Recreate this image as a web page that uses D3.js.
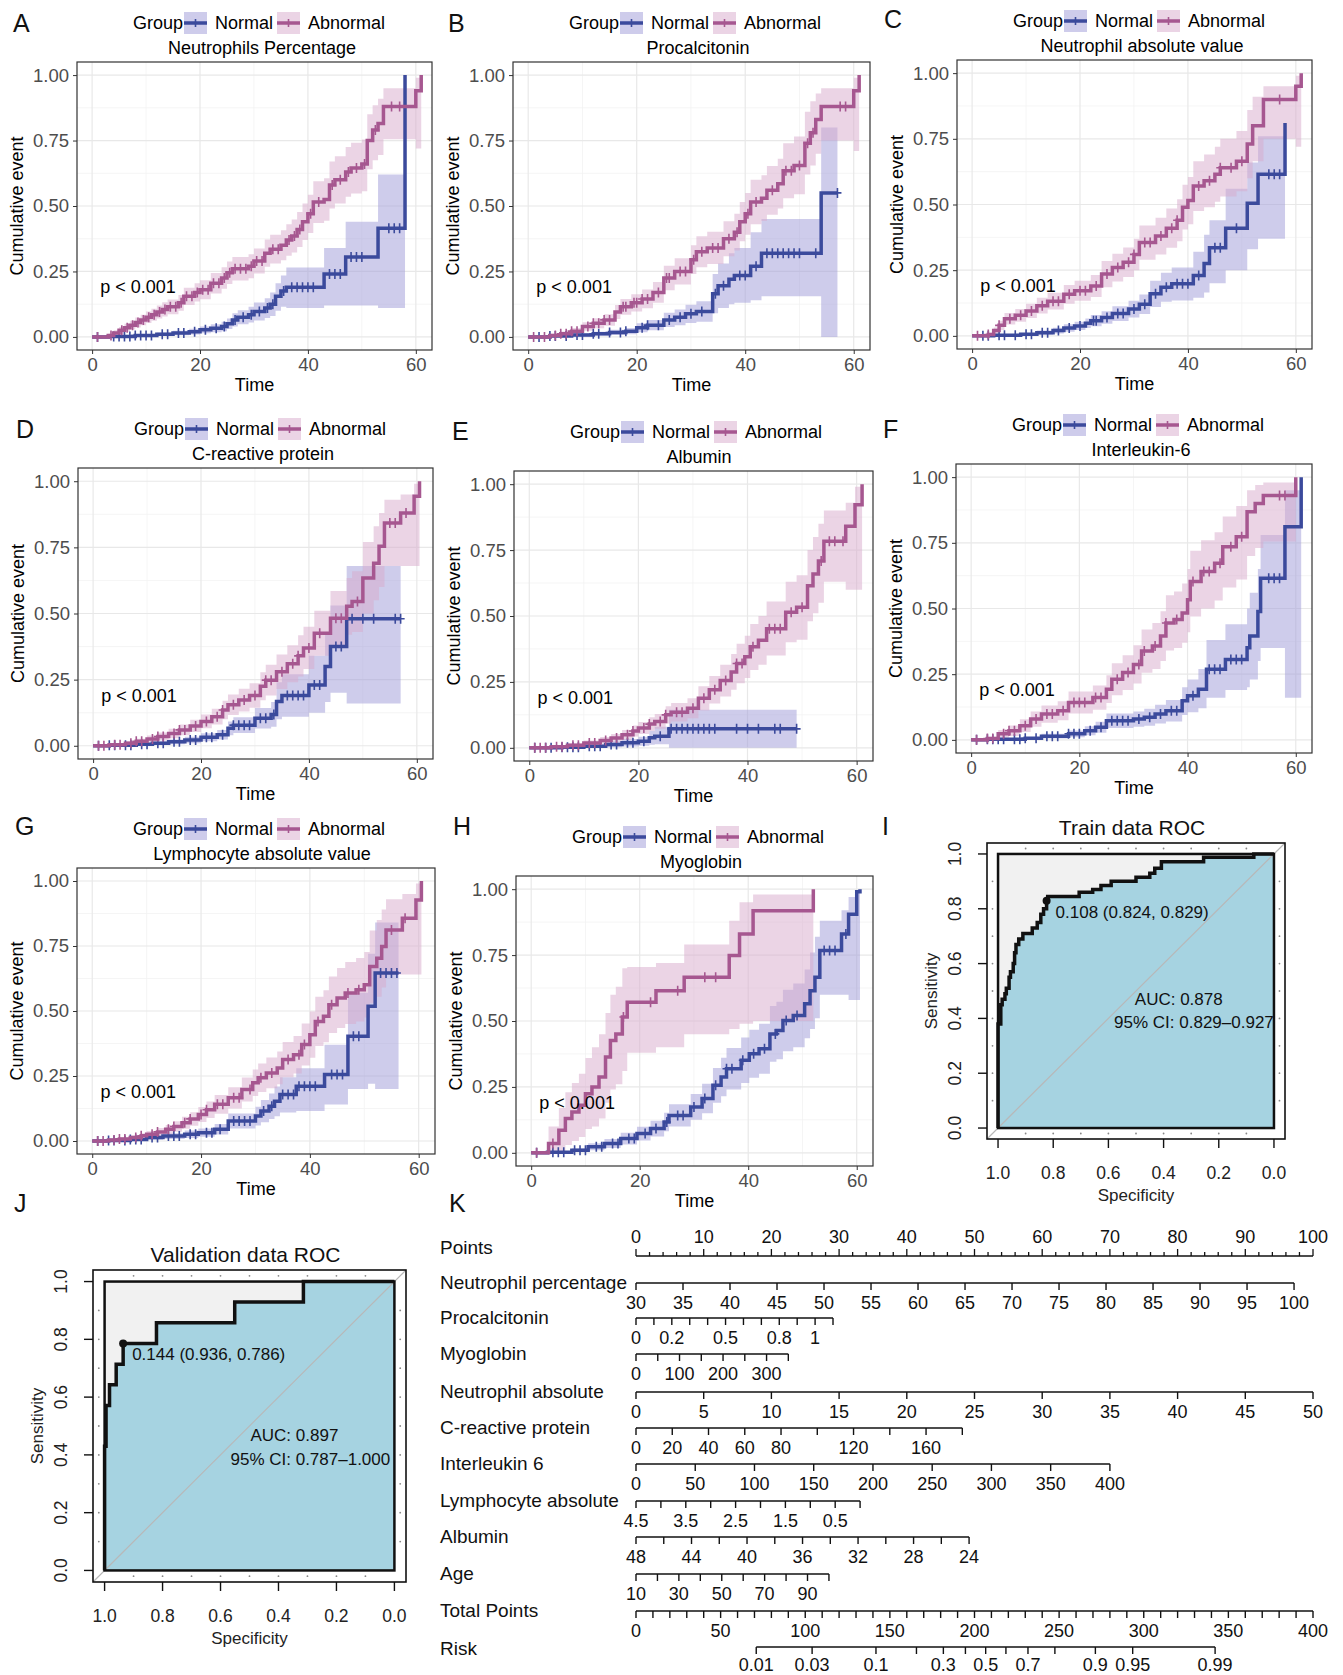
<!doctype html>
<html>
<head>
<meta charset="utf-8">
<script src="https://cdn.jsdelivr.net/npm/d3@7"></script>
<style>
  body { margin: 0; background: #fff; }
  svg { display: block; font-family: "Liberation Sans", Arial, sans-serif; }
</style>
</head>
<body>
<svg id="fig" width="1343" height="1675"></svg>
<script>
// ---------------- data ----------------
// KM steps: [time, cumulative event, lower CI, upper CI]
const groups = ["Normal", "Abnormal"];
const kmTitles = ["Neutrophils Percentage", "Procalcitonin", "Neutrophil absolute value",
  "C-reactive protein", "Albumin", "Interleukin-6", "Lymphocyte absolute value", "Myoglobin"];
const pText = "p < 0.001";

const aNormal = [[0,0,0,0],[3,0.002,0,0.005],[8,0.005,0,0.011],[12,0.01,0.003,0.017],[15,0.015,0.006,0.024],[18,0.02,0.009,0.031],[20,0.027,0.014,0.04],[22,0.033,0.018,0.048],[24,0.04,0.022,0.058],[25,0.05,0.03,0.07],[26,0.065,0.04,0.09],[27,0.075,0.048,0.102],[29,0.085,0.055,0.115],[30,0.097,0.063,0.131],[32,0.11,0.072,0.148],[33,0.125,0.08,0.17],[34,0.155,0.1,0.205],[35,0.175,0.115,0.235],[36,0.19,0.11,0.265],[43,0.24,0.12,0.34],[47,0.305,0.12,0.44],[53,0.415,0.11,0.62],[58,1,0.11,0.62]];
const aAbnormal = [[0,0,0,0],[3,0.005,0,0.012],[4,0.015,0.005,0.025],[5,0.025,0.012,0.038],[6,0.035,0.02,0.05],[7,0.045,0.028,0.062],[8,0.055,0.036,0.074],[9,0.065,0.045,0.085],[10,0.075,0.053,0.097],[11,0.085,0.062,0.108],[12,0.095,0.07,0.12],[13,0.105,0.078,0.132],[14,0.115,0.087,0.143],[16,0.13,0.1,0.16],[17,0.155,0.122,0.188],[19,0.17,0.135,0.205],[20,0.18,0.144,0.216],[22,0.205,0.166,0.244],[24,0.225,0.184,0.266],[25,0.245,0.202,0.288],[26,0.26,0.215,0.305],[29,0.27,0.224,0.316],[30,0.29,0.242,0.338],[32,0.32,0.268,0.372],[33,0.335,0.28,0.39],[35,0.35,0.293,0.407],[36,0.37,0.31,0.43],[37,0.385,0.322,0.448],[38,0.41,0.343,0.477],[39,0.44,0.37,0.51],[40,0.47,0.397,0.543],[41,0.515,0.435,0.595],[43,0.525,0.444,0.606],[44,0.58,0.49,0.67],[45,0.6,0.51,0.69],[47,0.63,0.535,0.725],[48,0.645,0.548,0.742],[50,0.66,0.556,0.754],[51,0.75,0.64,0.85],[52,0.79,0.675,0.885],[53,0.815,0.695,0.91],[54,0.88,0.755,0.95],[60,0.94,0.72,0.99],[61,1,0.72,0.99]];
const aCensN = [1,4,5,6,7,8,9,10,11,13,14,16,17,19,21,23,24.5,26.5,28,29.5,31,32.5,33.5,35.5,37,38,39,40,41,44,45,46,48,49,50,55,56,57];
const aCensA = [1,3.5,5.5,6.5,7.5,8.5,9.5,10.5,11.5,12.5,13.5,14.5,15.5,16.5,17.5,18.5,19.5,20.5,21.5,22.5,23.5,24.5,25.5,26.5,27.5,28.5,29.5,30.5,31.5,33.5,34.5,36.5,37.5,38.5,40.5,42,44.5,46,47.5,49,50.5,52.5,55.5,57];

const bNormal = [[0,0,0,0],[4,0.003,0,0.008],[8,0.007,0.001,0.013],[12,0.012,0.004,0.02],[15,0.017,0.007,0.027],[18,0.022,0.01,0.034],[20,0.035,0.018,0.052],[22,0.045,0.025,0.065],[25,0.065,0.038,0.092],[27,0.075,0.045,0.105],[29,0.088,0.053,0.123],[31,0.097,0.058,0.136],[34,0.165,0.09,0.24],[35,0.195,0.11,0.28],[37,0.22,0.125,0.32],[38,0.235,0.13,0.34],[41,0.27,0.14,0.4],[43,0.32,0.155,0.45],[54,0.55,0,0.8],[57,0.55,0,0.8]];
const bAbnormal = [[0,0,0,0],[4,0.005,0,0.012],[6,0.012,0.003,0.021],[8,0.022,0.01,0.034],[10,0.04,0.024,0.056],[12,0.052,0.033,0.071],[14,0.065,0.043,0.087],[16,0.095,0.068,0.122],[17,0.115,0.085,0.145],[19,0.13,0.097,0.163],[21,0.145,0.109,0.181],[23,0.17,0.13,0.21],[25,0.225,0.178,0.272],[27,0.25,0.2,0.3],[30,0.295,0.24,0.35],[31,0.325,0.266,0.384],[33,0.34,0.278,0.402],[36,0.375,0.308,0.442],[38,0.4,0.33,0.47],[39,0.44,0.365,0.515],[40,0.47,0.39,0.55],[41,0.515,0.43,0.6],[43,0.53,0.443,0.617],[44,0.56,0.467,0.653],[46,0.585,0.49,0.68],[47,0.635,0.53,0.74],[49,0.655,0.545,0.765],[51,0.74,0.62,0.86],[52,0.78,0.655,0.9],[53,0.83,0.7,0.93],[54,0.88,0.75,0.95],[60,0.94,0.71,0.99],[61,1,0.71,0.99]];
const bCensN = [2,4,5,7,9,10,12,13,15,17,18,21,22,24,26,28,30,32,34.5,36,39,40,42,44,45,46,47,48,49,50,53,57];
const bCensA = [1,3,5,6,7,8,9,11,12,13,14,15,17.5,18,19.5,20,21,22,24,25.5,26,28,29,30.5,32,34,35,37,38.5,40.5,42,45,47.5,48.5,50,51.5,52.5,57.5,58.5];

const cNormal = [[0,0,0,0],[4,0.002,0,0.006],[9,0.006,0.001,0.011],[12,0.012,0.004,0.02],[15,0.02,0.009,0.031],[17,0.03,0.016,0.044],[19,0.038,0.022,0.054],[21,0.048,0.03,0.066],[22,0.058,0.037,0.079],[24,0.07,0.046,0.094],[26,0.085,0.057,0.113],[29,0.102,0.07,0.134],[31,0.12,0.083,0.157],[33,0.16,0.11,0.21],[35,0.185,0.13,0.24],[37,0.198,0.135,0.26],[41,0.23,0.145,0.32],[43,0.275,0.165,0.385],[44,0.335,0.2,0.44],[47,0.41,0.25,0.56],[51,0.505,0.33,0.66],[53,0.615,0.37,0.76],[58,0.81,0.37,0.76]];
const cAbnormal = [[0,0,0,0],[3,0.005,0,0.012],[4,0.02,0.008,0.032],[5,0.04,0.022,0.058],[6,0.065,0.043,0.087],[8,0.078,0.054,0.102],[10,0.095,0.068,0.122],[12,0.115,0.085,0.145],[14,0.132,0.1,0.164],[17,0.158,0.122,0.194],[19,0.172,0.134,0.21],[22,0.19,0.148,0.232],[24,0.235,0.185,0.285],[26,0.26,0.207,0.313],[28,0.28,0.224,0.336],[30,0.31,0.25,0.37],[31,0.355,0.29,0.42],[34,0.38,0.31,0.45],[36,0.41,0.335,0.485],[38,0.44,0.36,0.52],[39,0.49,0.405,0.575],[40,0.515,0.425,0.605],[41,0.57,0.475,0.665],[43,0.59,0.49,0.69],[45,0.615,0.51,0.72],[46,0.64,0.53,0.75],[49,0.665,0.55,0.78],[51,0.73,0.6,0.86],[52,0.8,0.665,0.91],[54,0.9,0.75,0.95],[60,0.95,0.72,0.99],[61,1,0.72,0.99]];
const cCensN = [2,3,5,6,8,10,11,13,14,16,18,20,22.5,23,25,27,28,30,32,34,36,38,39,40,42,45,46,49,55,56,57];
const cCensA = [1,3,5,7,9,11,13,15,16,18,20,21,23,25,27,29,30,32,33,35,37,38,42,44,46,48,50,57];

const dNormal = [[0,0,0,0],[3,0.002,0,0.006],[8,0.006,0.001,0.011],[11,0.01,0.003,0.017],[14,0.015,0.006,0.024],[17,0.022,0.01,0.034],[20,0.032,0.017,0.047],[23,0.042,0.024,0.06],[25,0.066,0.04,0.092],[26,0.078,0.048,0.108],[30,0.104,0.065,0.143],[33,0.118,0.072,0.165],[34,0.167,0.1,0.24],[35,0.19,0.11,0.27],[40,0.23,0.125,0.34],[43,0.3,0.165,0.43],[44,0.375,0.2,0.53],[47,0.48,0.16,0.68],[57,0.48,0.16,0.68]];
const dAbnormal = [[0,0,0,0],[3,0.004,0,0.01],[6,0.01,0.002,0.018],[8,0.017,0.007,0.027],[10,0.026,0.013,0.039],[12,0.035,0.02,0.05],[14,0.046,0.028,0.064],[16,0.06,0.04,0.08],[18,0.075,0.052,0.098],[20,0.092,0.066,0.118],[22,0.11,0.08,0.14],[24,0.135,0.1,0.17],[25,0.155,0.116,0.194],[27,0.173,0.13,0.216],[29,0.19,0.144,0.236],[31,0.225,0.172,0.278],[32,0.248,0.19,0.306],[34,0.28,0.215,0.345],[36,0.31,0.24,0.38],[38,0.34,0.262,0.418],[39,0.37,0.29,0.45],[41,0.425,0.34,0.51],[44,0.482,0.38,0.585],[47,0.527,0.42,0.634],[48,0.545,0.43,0.66],[50,0.634,0.5,0.77],[52,0.69,0.55,0.83],[53,0.754,0.6,0.88],[54,0.842,0.68,0.93],[57,0.88,0.68,0.95],[59.5,0.943,0.68,0.99],[60.5,1,0.68,0.99]];
const dCensN = [1,3,4,6,7,9,10,12,13,15,16,18,19,21,22,24,26,27,28,29,31,32,33.5,36,37,38,39,41,42,45,46,48,50,52,56,57];
const dCensA = [1,2,4,5,7,8,9,11,12,13,15,16,17,19,21,23,24,26,28,30,32,33,35,37,38,40,42,45,46,49,55,56,58];

const eNormal = [[0,0,0,0],[6,0.002,0,0.006],[10,0.006,0,0.013],[14,0.013,0.002,0.024],[17,0.019,0.005,0.033],[20,0.025,0.008,0.042],[22,0.038,0.012,0.064],[23,0.044,0.014,0.08],[25.6,0.072,0,0.144],[49,0.072,0,0.144]];
const eAbnormal = [[0,0,0,0],[4,0.004,0,0.009],[7,0.01,0.003,0.017],[10,0.018,0.008,0.028],[13,0.028,0.015,0.041],[15,0.037,0.022,0.052],[17,0.05,0.032,0.068],[19,0.064,0.043,0.085],[20,0.075,0.052,0.098],[22,0.09,0.064,0.116],[23,0.1,0.072,0.128],[25,0.125,0.092,0.158],[26,0.135,0.1,0.17],[29,0.15,0.112,0.188],[31,0.188,0.142,0.234],[33,0.22,0.168,0.272],[35,0.255,0.195,0.315],[37,0.288,0.22,0.356],[38,0.32,0.245,0.395],[39.5,0.345,0.265,0.425],[40.5,0.383,0.295,0.47],[42,0.408,0.315,0.5],[43.5,0.452,0.35,0.555],[47,0.514,0.4,0.63],[49,0.533,0.41,0.655],[51,0.615,0.48,0.75],[52,0.659,0.51,0.8],[53,0.709,0.55,0.85],[54,0.784,0.63,0.9],[58,0.84,0.6,0.93],[59.7,0.922,0.6,0.99],[61,1,0.6,0.99]];
const eCensN = [1,3,4,6,7,8,9,11,12,13,15,16,18,19,21,24,26,27,28,29,30,31,32,33,34,38,40,42,45,46,49];
const eCensA = [1,2,3,5,6,8,9,11,12,14,16,18,19,21,22,24,25,27,28,30,32,34,36,38,39,41,44,45,46,48,50,53.5,55,56,57.5];

const fNormal = [[0,0,0,0],[3,0.002,0,0.006],[10,0.006,0.001,0.011],[13,0.014,0.005,0.023],[18,0.023,0.01,0.036],[21,0.035,0.018,0.052],[23,0.048,0.027,0.069],[25,0.073,0.045,0.1],[30,0.079,0.05,0.108],[32,0.086,0.054,0.118],[34,0.098,0.062,0.134],[36,0.111,0.07,0.152],[39,0.149,0.095,0.2],[40,0.168,0.105,0.23],[42,0.193,0.12,0.27],[43.5,0.269,0.16,0.38],[47,0.306,0.19,0.44],[51,0.351,0.2,0.5],[51.5,0.395,0.23,0.56],[53,0.489,0.3,0.65],[53.5,0.615,0.35,0.78],[58,0.811,0.16,0.95],[61,1,0.16,0.95]];
const fAbnormal = [[0,0,0,0],[3,0.005,0,0.012],[5,0.023,0.008,0.038],[7,0.035,0.015,0.055],[9,0.054,0.03,0.078],[11,0.079,0.05,0.108],[13,0.098,0.065,0.131],[16,0.111,0.075,0.147],[18,0.142,0.1,0.184],[22.5,0.161,0.115,0.207],[25,0.193,0.14,0.246],[26,0.231,0.17,0.292],[28,0.256,0.19,0.322],[30,0.287,0.215,0.36],[31.5,0.338,0.255,0.42],[33.5,0.357,0.27,0.445],[35,0.395,0.3,0.49],[36,0.445,0.34,0.55],[37.5,0.458,0.35,0.565],[39,0.483,0.37,0.595],[40,0.533,0.41,0.65],[40.5,0.603,0.47,0.72],[42.5,0.641,0.5,0.76],[45,0.672,0.53,0.79],[46.5,0.735,0.58,0.85],[49,0.773,0.61,0.89],[51,0.868,0.7,0.95],[52.5,0.9,0.73,0.97],[54,0.93,0.755,0.98],[60,1,0.755,0.98]];
const fCensN = [1,3,4,5,6,8,9,10,12,14,15,16,18,19,20,22,24,26,27,28,29,31,33,35,37,38,41,44,45,46,48,49,50,55,56,57];
const fCensA = [1,3,4,6,7,8,10,12,14,15,17,19,20,21,23,24,27,29,31,32,34,36,38,41,43,44,46,48,50,57,58];

const gNormal = [[0,0,0,0],[3,0.002,0,0.006],[7,0.006,0.001,0.011],[10,0.013,0.005,0.021],[13,0.019,0.008,0.03],[17,0.026,0.012,0.04],[19.5,0.032,0.016,0.048],[22.5,0.045,0.025,0.065],[25,0.077,0.048,0.106],[30,0.096,0.06,0.132],[31,0.115,0.072,0.158],[32.5,0.134,0.085,0.183],[33.5,0.153,0.095,0.21],[34.5,0.179,0.11,0.245],[37.5,0.211,0.115,0.28],[42.7,0.256,0.14,0.37],[47,0.403,0.2,0.57],[50.7,0.518,0.22,0.72],[52,0.646,0.2,0.84],[56.3,0.646,0.2,0.84]];
const gAbnormal = [[0,0,0,0],[3,0.004,0,0.01],[5,0.008,0.002,0.014],[7,0.013,0.005,0.021],[9,0.02,0.01,0.03],[10,0.026,0.014,0.038],[12,0.035,0.02,0.05],[13.5,0.045,0.028,0.062],[15,0.056,0.036,0.076],[16.5,0.07,0.047,0.093],[18,0.085,0.059,0.111],[19.5,0.102,0.073,0.131],[21,0.12,0.088,0.152],[22.5,0.141,0.105,0.177],[25,0.166,0.125,0.207],[27.5,0.198,0.152,0.244],[29.5,0.224,0.173,0.275],[30.5,0.243,0.188,0.298],[32,0.262,0.203,0.321],[34,0.281,0.218,0.344],[35,0.313,0.245,0.381],[37,0.332,0.26,0.404],[38.5,0.371,0.29,0.452],[40,0.409,0.32,0.498],[41,0.46,0.365,0.555],[42.5,0.48,0.38,0.58],[43.5,0.524,0.415,0.633],[45,0.55,0.435,0.665],[46.5,0.569,0.45,0.688],[48.5,0.582,0.46,0.704],[50,0.601,0.475,0.727],[51,0.671,0.53,0.81],[52.3,0.703,0.555,0.85],[53.2,0.748,0.59,0.89],[54,0.812,0.64,0.93],[57,0.857,0.64,0.95],[59.5,0.927,0.64,0.99],[60.5,1,0.64,0.99]];
const gCensN = [1,3,4,6,7,8,9,11,12,14,15,16,18,19,21,22,23.5,26,27,28,29,31.5,33,35,36,37,38,39,40,41,44,45,46,48,49,53,54,55,56];
const gCensA = [1,2,4,5,6,8,9,11,12,14,15,17,18,20,21,23,24,26,27,29,31,33,36,38,39,41.5,44,47,49,55,57.5];

const hNormal = [[0,0,0,0],[3,0.002,0,0.006],[7.5,0.01,0.003,0.017],[10.5,0.023,0.01,0.036],[13.5,0.035,0.018,0.052],[16.5,0.054,0.032,0.076],[19.5,0.073,0.047,0.099],[22,0.092,0.062,0.122],[24.5,0.117,0.082,0.152],[25.4,0.142,0.1,0.184],[29.4,0.174,0.125,0.223],[31.5,0.206,0.15,0.262],[33.5,0.256,0.19,0.322],[35,0.288,0.215,0.361],[36,0.319,0.24,0.398],[38.7,0.351,0.265,0.437],[40.2,0.376,0.285,0.467],[42,0.395,0.3,0.49],[44,0.451,0.345,0.557],[45.2,0.464,0.355,0.573],[46.4,0.502,0.385,0.619],[48.3,0.521,0.4,0.642],[50.4,0.565,0.435,0.695],[51.4,0.615,0.47,0.76],[52.3,0.666,0.51,0.82],[53.2,0.767,0.6,0.88],[57.2,0.83,0.6,0.92],[58.5,0.905,0.58,0.97],[60,0.99,0.58,0.99],[60.6,1,0.58,0.99]];
const hAbnormal = [[0,0,0,0],[3.2,0.035,0,0.1],[5.1,0.086,0,0.17],[6.3,0.13,0.03,0.23],[7.5,0.155,0.045,0.265],[8.8,0.18,0.06,0.3],[10,0.224,0.09,0.36],[11.2,0.25,0.1,0.4],[12.5,0.288,0.13,0.45],[13.7,0.363,0.19,0.53],[14.6,0.426,0.24,0.6],[15.6,0.451,0.26,0.63],[16.8,0.515,0.31,0.7],[17.7,0.571,0.38,0.705],[23,0.615,0.4,0.72],[28.2,0.666,0.45,0.79],[36.5,0.748,0.47,0.88],[38.4,0.83,0.49,0.95],[40.9,0.918,0.5,0.98],[52,1,0.5,0.98]];
const hCensN = [1,4,5,6,8,9,10,12,13,15,16,18,19,21,23,25,27,28,30,32,34,36,37,39,41,43,45,47,49,54,55,56,58];
const hCensA = [1,4,17,22,27,32,34];

const kmNormal = [aNormal, bNormal, cNormal, dNormal, eNormal, fNormal, gNormal, hNormal];
const kmAbnormal = [aAbnormal, bAbnormal, cAbnormal, dAbnormal, eAbnormal, fAbnormal, gAbnormal, hAbnormal];
const kmCensNormal = [aCensN, bCensN, cCensN, dCensN, eCensN, fCensN, gCensN, hCensN];
const kmCensAbnormal = [aCensA, bCensA, cCensA, dCensA, eCensA, fCensA, gCensA, hCensA];
const timeTicks = [0, 20, 40, 60];
const eventTicks = [0, 0.25, 0.5, 0.75, 1];

// ROC curves: points at the top of each vertical jump [specificity, sensitivity]
const trainSpec = [1, 1, 0.99, 0.985, 0.975, 0.97, 0.96, 0.955, 0.945, 0.94, 0.935, 0.925, 0.91, 0.876, 0.858, 0.845, 0.835, 0.824, 0.82, 0.706, 0.657, 0.627, 0.59, 0.5, 0.45, 0.432, 0.408, 0.255, 0.073, 0];
const trainSens = [0, 0.38, 0.45, 0.47, 0.49, 0.51, 0.55, 0.57, 0.6, 0.64, 0.67, 0.69, 0.71, 0.73, 0.75, 0.78, 0.8, 0.829, 0.845, 0.86, 0.87, 0.885, 0.9, 0.915, 0.93, 0.948, 0.972, 0.988, 1, 1];
const valSpec = [1, 1, 0.995, 0.983, 0.96, 0.936, 0.821, 0.551, 0.314, 0];
const valSens = [0, 0.43, 0.571, 0.643, 0.714, 0.786, 0.857, 0.929, 1, 1];
const trainBest = {thr: 0.108, spec: 0.824, sens: 0.829};
const valBest = {thr: 0.144, spec: 0.936, sens: 0.786};
const trainAuc = {auc: "0.878", ci: "0.829\u20130.927"};
const valAuc = {auc: "0.897", ci: "0.787\u20131.000"};
const rocTicks = [1, 0.8, 0.6, 0.4, 0.2, 0];

// Nomogram
const nomoVars = ["Neutrophil percentage", "Procalcitonin", "Myoglobin", "Neutrophil absolute",
  "C-reactive protein", "Interleukin 6", "Lymphocyte absolute", "Albumin", "Age"];
const nomoRange = [[30, 100], [0, 1.1], [0, 350], [0, 50], [0, 180], [0, 400], [4.5, 0], [48, 24], [10, 100]];
const nomoMaxPoints = [97.2, 29.1, 22.5, 100, 48.2, 70, 33.1, 49.2, 28.5];
const nomoTicks = [
  [30,35,40,45,50,55,60,65,70,75,80,85,90,95,100],
  [0,0.1,0.2,0.3,0.4,0.5,0.6,0.7,0.8,0.9,1,1.1],
  [0,50,100,150,200,250,300,350],
  [0,5,10,15,20,25,30,35,40,45,50],
  [0,20,40,60,80,100,120,140,160,180],
  [0,50,100,150,200,250,300,350,400],
  [4.5,4,3.5,3,2.5,2,1.5,1,0.5,0],
  [48,46,44,42,40,38,36,34,32,30,28,26,24],
  [10,20,30,40,50,60,70,80,90,100]];
const nomoLabels = [
  [30,35,40,45,50,55,60,65,70,75,80,85,90,95,100],
  [0,0.2,0.5,0.8,1],
  [0,100,200,300],
  [0,5,10,15,20,25,30,35,40,45,50],
  [0,20,40,60,80,120,160],
  [0,50,100,150,200,250,300,350,400],
  [4.5,3.5,2.5,1.5,0.5],
  [48,44,40,36,32,28,24],
  [10,30,50,70,90]];
const pointsLabels = [0,10,20,30,40,50,60,70,80,90,100];
const totalLabels = [0,50,100,150,200,250,300,350,400];
const riskTicks = [0.01,0.03,0.1,0.2,0.3,0.4,0.5,0.6,0.7,0.8,0.9,0.95,0.99];
const riskLabels = [0.01,0.03,0.1,0.3,0.5,0.7,0.9,0.95,0.99];
const riskCenterPoints = 206.6;   // total points where risk = 0.5
const riskPointsPerLogit = 29.5;

// ---------------- layout / style ----------------
const kmLayout = [
  {letter: "A", lx: 13, ly: 32, x0: 77, y0: 62, x1: 432, y1: 350},
  {letter: "B", lx: 448, ly: 32, x0: 513, y0: 62, x1: 870, y1: 350},
  {letter: "C", lx: 884, ly: 28, x0: 957, y0: 60, x1: 1312, y1: 349},
  {letter: "D", lx: 16, ly: 438, x0: 78, y0: 468, x1: 433, y1: 759},
  {letter: "E", lx: 452, ly: 440, x0: 514, y0: 471, x1: 873, y1: 761},
  {letter: "F", lx: 883, ly: 438, x0: 956, y0: 464, x1: 1312, y1: 753},
  {letter: "G", lx: 15, ly: 835, x0: 77, y0: 868, x1: 435, y1: 1154},
  {letter: "H", lx: 453, ly: 835, x0: 516, y0: 876, x1: 873, y1: 1166}
];
const lineCol = ["#3b4a9c", "#a65790"];
const ribCol = ["#9d9ad8", "#d8a9cc"];

const svg = d3.select("#fig");
svg.append("rect").attr("width", 1343).attr("height", 1675).attr("fill", "#fff");

function letter(txt, x, y) {
  svg.append("text").attr("x", x).attr("y", y).attr("font-size", 25).attr("fill", "#111").text(txt);
}

function valueAt(curve, t) {
  let v = 0;
  for (const d of curve) { if (d[0] <= t) v = d[1]; else break; }
  return v;
}

function drawKM(L, i) {
  const g = svg.append("g");
  const x = d3.scaleLinear().domain([-2.8, 63]).range([L.x0, L.x1]);
  const y = d3.scaleLinear().domain([-0.05, 1.05]).range([L.y1, L.y0]);

  letter(L.letter, L.lx, L.ly);

  // grid (theme_bw)
  g.selectAll(null).data([10, 30, 50]).join("line")
    .attr("x1", d => x(d)).attr("x2", d => x(d)).attr("y1", L.y0).attr("y2", L.y1)
    .attr("stroke", "#f3f3f3").attr("stroke-width", 0.8);
  g.selectAll(null).data([0.125, 0.375, 0.625, 0.875]).join("line")
    .attr("y1", d => y(d)).attr("y2", d => y(d)).attr("x1", L.x0).attr("x2", L.x1)
    .attr("stroke", "#f3f3f3").attr("stroke-width", 0.8);
  g.selectAll(null).data(timeTicks).join("line")
    .attr("x1", d => x(d)).attr("x2", d => x(d)).attr("y1", L.y0).attr("y2", L.y1)
    .attr("stroke", "#e8e8e8").attr("stroke-width", 1.2);
  g.selectAll(null).data(eventTicks).join("line")
    .attr("y1", d => y(d)).attr("y2", d => y(d)).attr("x1", L.x0).attr("x2", L.x1)
    .attr("stroke", "#e8e8e8").attr("stroke-width", 1.2);

  const curves = [kmNormal[i], kmAbnormal[i]];
  const cens = [kmCensNormal[i], kmCensAbnormal[i]];
  const area = d3.area().curve(d3.curveStepAfter)
    .x(d => x(d[0])).y0(d => y(d[2])).y1(d => y(d[3]));
  const line = d3.line().curve(d3.curveStepAfter)
    .x(d => x(d[0])).y(d => y(d[1]));

  curves.forEach((c, k) => {
    g.append("path").attr("d", area(c)).attr("fill", ribCol[k]).attr("fill-opacity", 0.5);
  });
  curves.forEach((c, k) => {
    g.append("path").attr("d", line(c)).attr("fill", "none")
      .attr("stroke", lineCol[k]).attr("stroke-width", 3.5);
    g.selectAll(null).data(cens[k]).join("path")
      .attr("d", t => {
        const px = x(t), py = y(valueAt(c, t));
        return `M${px - 4},${py}H${px + 4}M${px},${py - 5}V${py + 5}`;
      })
      .attr("stroke", lineCol[k]).attr("stroke-width", 1.6);
  });

  // border
  g.append("rect").attr("x", L.x0).attr("y", L.y0)
    .attr("width", L.x1 - L.x0).attr("height", L.y1 - L.y0)
    .attr("fill", "none").attr("stroke", "#333").attr("stroke-width", 1.2);

  // axes
  const ax = g.append("g").attr("transform", `translate(0,${L.y1})`)
    .call(d3.axisBottom(x).tickValues(timeTicks).tickSize(4).tickPadding(4));
  const ay = g.append("g").attr("transform", `translate(${L.x0},0)`)
    .call(d3.axisLeft(y).tickValues(eventTicks).tickFormat(d3.format(".2f")).tickSize(4).tickPadding(4));
  [ax, ay].forEach(a => {
    a.select(".domain").remove();
    a.selectAll(".tick line").attr("stroke", "#333");
    a.selectAll(".tick text").attr("fill", "#4d4d4d").attr("font-size", 18.5)
      .attr("font-family", "'Liberation Sans', Arial, sans-serif");
  });

  g.append("text").attr("x", (L.x0 + L.x1) / 2).attr("y", L.y1 + 41)
    .attr("text-anchor", "middle").attr("font-size", 18).text("Time");
  g.append("text").attr("transform", `translate(${L.x0 - 60},${(L.y0 + L.y1) / 2}) rotate(-90)`)
    .attr("text-anchor", "middle").attr("dy", "0.35em").attr("font-size", 18).text("Cumulative event");

  // p value
  g.append("text").attr("x", x(1.5)).attr("y", y(0.19)).attr("dy", "0.35em")
    .attr("font-size", 18).text(pText);

  // title and legend
  g.append("text").attr("x", L.x0 + 185).attr("y", L.y0 - 8)
    .attr("text-anchor", "middle").attr("font-size", 18).text(kmTitles[i]);
  const lg = L.x0 + 56, ly = L.y0 - 39;
  g.append("text").attr("x", lg).attr("y", ly).attr("dy", "0.35em").attr("font-size", 18).text("Group");
  const keyX = [lg + 51, lg + 144], txtX = [lg + 82, lg + 175];
  groups.forEach((name, k) => {
    g.append("rect").attr("x", keyX[k]).attr("y", ly - 11).attr("width", 23).attr("height", 22)
      .attr("fill", ribCol[k]).attr("fill-opacity", 0.5);
    g.append("line").attr("x1", keyX[k]).attr("x2", keyX[k] + 23).attr("y1", ly).attr("y2", ly)
      .attr("stroke", lineCol[k]).attr("stroke-width", 3.5);
    g.append("line").attr("x1", keyX[k] + 11.5).attr("x2", keyX[k] + 11.5).attr("y1", ly - 4).attr("y2", ly + 4)
      .attr("stroke", lineCol[k]).attr("stroke-width", 1.6);
    g.append("text").attr("x", txtX[k]).attr("y", ly).attr("dy", "0.35em").attr("font-size", 18).text(name);
  });
}

kmLayout.forEach(drawKM);

// ---------------- ROC panels ----------------
function drawROC(o) {
  const g = svg.append("g");
  const x = d3.scaleLinear().domain([1.04, -0.04]).range([o.x0, o.x1]);
  const y = d3.scaleLinear().domain([-0.04, 1.04]).range([o.y1, o.y0]);
  const pts = o.spec.map((s, k) => [s, o.sens[k]]);

  letter(o.letter, o.lx, o.ly);
  g.append("text").attr("x", (o.x0 + o.x1) / 2 - 4).attr("y", o.y0 - 8)
    .attr("text-anchor", "middle").attr("font-size", 21).attr("fill", "#111").text(o.title);

  g.append("rect").attr("x", x(1)).attr("y", y(1)).attr("width", x(0) - x(1)).attr("height", y(0) - y(1))
    .attr("fill", "#f1f1f1");
  const area = d3.area().curve(d3.curveStepAfter).x(d => x(d[0])).y0(y(0)).y1(d => y(d[1]));
  g.append("path").attr("d", area(pts)).attr("fill", "#a6d3e1");
  g.append("line").attr("x1", x(1.04)).attr("y1", y(-0.04)).attr("x2", x(-0.04)).attr("y2", y(1.04))
    .attr("stroke", "#b8b8b8").attr("stroke-width", 1.2);
  g.append("rect").attr("x", x(1)).attr("y", y(1)).attr("width", x(0) - x(1)).attr("height", y(0) - y(1))
    .attr("fill", "none").attr("stroke", "#111").attr("stroke-width", 2.5);
  const line = d3.line().curve(d3.curveStepAfter).x(d => x(d[0])).y(d => y(d[1]));
  g.append("path").attr("d", line(pts)).attr("fill", "none").attr("stroke", "#111").attr("stroke-width", 3.5);

  // small marks between inner square and frame
  const fr = [0.1, 0.2, 0.3, 0.4, 0.5, 0.6, 0.7, 0.8, 0.9];
  g.selectAll(null).data(fr).join("circle").attr("cx", d => x(d)).attr("cy", y(1.02)).attr("r", 0.9).attr("fill", "#888");
  g.selectAll(null).data(fr).join("circle").attr("cx", d => x(d)).attr("cy", y(-0.02)).attr("r", 0.9).attr("fill", "#888");
  g.selectAll(null).data(fr).join("circle").attr("cy", d => y(d)).attr("cx", x(-0.02)).attr("r", 0.9).attr("fill", "#888");
  g.selectAll(null).data(fr).join("circle").attr("cy", d => y(d)).attr("cx", x(1.02)).attr("r", 0.9).attr("fill", "#888");

  // best threshold
  g.append("circle").attr("cx", x(o.best.spec)).attr("cy", y(o.best.sens)).attr("r", 4).attr("fill", "#111");
  g.append("text").attr("x", x(o.best.spec) + 9).attr("y", y(o.best.sens) + 11).attr("dy", "0.35em")
    .attr("font-size", 17).attr("fill", "#111")
    .text(`${o.best.thr} (${o.best.spec.toFixed(3)}, ${o.best.sens.toFixed(3)})`);
  g.append("text").attr("x", x(0.345)).attr("y", y(0.47)).attr("dy", "0.35em").attr("text-anchor", "middle")
    .attr("font-size", 17).attr("fill", "#111").text("AUC: " + o.auc.auc);
  g.append("text").attr("x", x(0.29)).attr("y", y(0.385)).attr("dy", "0.35em").attr("text-anchor", "middle")
    .attr("font-size", 17).attr("fill", "#111").text("95% CI: " + o.auc.ci);

  // frame
  g.append("rect").attr("x", o.x0).attr("y", o.y0).attr("width", o.x1 - o.x0).attr("height", o.y1 - o.y0)
    .attr("fill", "none").attr("stroke", "#111").attr("stroke-width", 1.6);

  // axes
  g.selectAll(null).data(rocTicks).join("line")
    .attr("x1", d => x(d)).attr("x2", d => x(d)).attr("y1", o.y1).attr("y2", o.y1 + 9)
    .attr("stroke", "#111").attr("stroke-width", 1.4);
  g.selectAll(null).data(rocTicks).join("text")
    .attr("x", d => x(d)).attr("y", o.y1 + 40).attr("text-anchor", "middle")
    .attr("font-size", 17.5).attr("fill", "#222").text(d => d.toFixed(1));
  g.selectAll(null).data(rocTicks).join("line")
    .attr("y1", d => y(d)).attr("y2", d => y(d)).attr("x1", o.x0).attr("x2", o.x0 - 9)
    .attr("stroke", "#111").attr("stroke-width", 1.4);
  g.selectAll(null).data(rocTicks).join("text")
    .attr("transform", d => `translate(${o.x0 - 32},${y(d)}) rotate(-90)`)
    .attr("text-anchor", "middle").attr("dy", "0.35em")
    .attr("font-size", 17.5).attr("fill", "#222").text(d => d.toFixed(1));
  g.append("text").attr("x", (x(1) + x(0)) / 2).attr("y", o.y1 + 62).attr("text-anchor", "middle")
    .attr("font-size", 17).attr("fill", "#222").text("Specificity");
  g.append("text").attr("transform", `translate(${o.x0 - 56},${(o.y0 + o.y1) / 2}) rotate(-90)`)
    .attr("text-anchor", "middle").attr("dy", "0.35em")
    .attr("font-size", 17).attr("fill", "#222").text("Sensitivity");
}

drawROC({letter: "I", lx: 882, ly: 835, x0: 987, y0: 843, x1: 1285, y1: 1139, title: "Train data ROC",
  spec: trainSpec, sens: trainSens, best: trainBest, auc: trainAuc});
drawROC({letter: "J", lx: 14, ly: 1212, x0: 93, y0: 1270, x1: 406, y1: 1582, title: "Validation data ROC",
  spec: valSpec, sens: valSens, best: valBest, auc: valAuc});

// ---------------- Nomogram ----------------
letter("K", 449, 1212);
const ptsScale = d3.scaleLinear().domain([0, 100]).range([636, 1313]);
const totScale = d3.scaleLinear().domain([0, 400]).range([636, 1313]);
const nomoRowY = [1283, 1318, 1354, 1392, 1428, 1464, 1501, 1537, 1574];
const nomo = svg.append("g").attr("fill", "#111");
const labX = 440;

function rowLabel(txt, yy) {
  nomo.append("text").attr("x", labX).attr("y", yy).attr("font-size", 19).text(txt);
}
function hline(x1, x2, yy) {
  nomo.append("line").attr("x1", x1).attr("x2", x2).attr("y1", yy).attr("y2", yy)
    .attr("stroke", "#111").attr("stroke-width", 1.5);
}
function ticksDown(xs, yy, len) {
  nomo.selectAll(null).data(xs).join("line")
    .attr("x1", d => d).attr("x2", d => d).attr("y1", yy).attr("y2", yy + len)
    .attr("stroke", "#111").attr("stroke-width", 1.4);
}
function tickText(items, yy) {
  nomo.selectAll(null).data(items).join("text")
    .attr("x", d => d[0]).attr("y", yy).attr("text-anchor", "middle")
    .attr("font-size", 18).text(d => d[1]);
}

// Points axis (ticks up)
{
  const yy = 1256;
  rowLabel("Points", yy - 2);
  hline(ptsScale(0), ptsScale(100), yy);
  const minor = d3.range(0, 101, 2);
  nomo.selectAll(null).data(minor).join("line")
    .attr("x1", d => ptsScale(d)).attr("x2", d => ptsScale(d))
    .attr("y1", yy).attr("y2", d => d % 10 === 0 ? yy - 7 : yy - 4)
    .attr("stroke", "#111").attr("stroke-width", 1.3);
  tickText(pointsLabels.map(v => [ptsScale(v), String(v)]), yy - 13);
}

nomoVars.forEach((name, i) => {
  const yy = nomoRowY[i];
  const s = d3.scaleLinear().domain(nomoRange[i]).range([ptsScale(0), ptsScale(nomoMaxPoints[i])]);
  rowLabel(name, yy + 6);
  hline(s(nomoRange[i][0]), s(nomoRange[i][1]), yy);
  ticksDown(nomoTicks[i].map(v => s(v)), yy, 7);
  tickText(nomoLabels[i].map(v => [s(v), String(v)]), yy + 26);
});

// Total points
{
  const yy = 1611;
  rowLabel("Total Points", yy + 6);
  hline(totScale(0), totScale(400), yy);
  ticksDown(d3.range(0, 401, 10).map(v => totScale(v)), yy, 7);
  tickText(totalLabels.map(v => [totScale(v), String(v)]), yy + 26);
}

// Risk
{
  const yy = 1647;
  const riskX = p => totScale(riskCenterPoints + riskPointsPerLogit * Math.log(p / (1 - p)));
  rowLabel("Risk", yy + 8);
  hline(riskX(riskTicks[0]), riskX(riskTicks[riskTicks.length - 1]), yy);
  ticksDown(riskTicks.map(riskX), yy, 7);
  tickText(riskLabels.map(v => [riskX(v), String(v)]), yy + 24);
}
</script>
</body>
</html>
